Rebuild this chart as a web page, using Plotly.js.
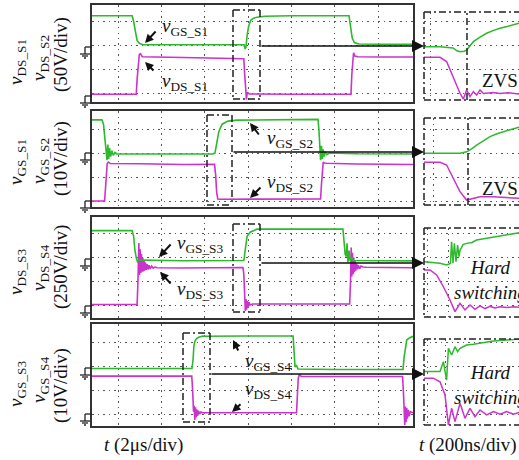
<!DOCTYPE html>
<html><head><meta charset="utf-8">
<script src="https://cdn.plot.ly/plotly-3.0.1.min.js"></script>
<style>html,body{margin:0;padding:0;background:#fff}#chart{width:519px;height:460px}</style>
</head><body><div id="chart"></div>
<script>
// ---------- DATA (time in µs for main traces, ns for zoomed insets; voltage in divisions) ----------
const p1GsT = [0.80, 2.65, 2.72, 2.80, 2.88, 3.00, 3.15, 5.00, 7.00, 7.81, 7.86, 7.90, 7.95, 8.02, 8.12, 8.25, 8.41, 8.78, 10.0, 12.65, 12.72, 12.80, 12.90, 13.10, 14.0, 15.6];
const p1GsV = [3.24, 3.24, 3.00, 2.50, 2.20, 2.08, 2.03, 2.03, 2.04, 2.03, 1.85, 1.95, 2.40, 2.80, 3.05, 3.14, 3.18, 3.22, 3.24, 3.24, 2.80, 2.30, 2.12, 2.06, 2.05, 2.05];
const p1DsT = [0.80, 2.84, 2.88, 2.93, 2.98, 3.03, 3.12, 5.0, 7.70, 7.80, 7.84, 7.88, 7.92, 7.96, 8.05, 10.0, 12.74, 12.78, 12.82, 12.86, 12.92, 13.05, 14.0, 15.6];
const p1DsV = [-0.03, -0.03, 0.60, 1.30, 1.62, 1.66, 1.53, 1.50, 1.48, 1.45, 0.80, 0.05, -0.25, 0.05, -0.02, -0.03, -0.03, 0.80, 1.55, 1.70, 1.56, 1.53, 1.52, 1.52];

const p2GsT = [0.80, 1.26, 1.33, 1.40, 1.45, 1.49, 1.53, 1.57, 1.61, 1.66, 1.72, 1.78, 1.86, 1.95, 4.0, 6.38, 6.47, 6.56, 6.65, 6.80, 7.07, 7.50, 9.0, 11.22, 11.26, 11.30, 11.34, 11.38, 11.42, 11.46, 11.50, 11.56, 11.63, 11.75, 13.0, 15.6];
const p2GsV = [3.38, 3.38, 3.20, 2.60, 2.30, 1.70, 2.35, 1.75, 2.20, 1.85, 2.10, 1.90, 2.02, 1.96, 1.96, 1.96, 2.00, 2.40, 2.90, 3.20, 3.33, 3.37, 3.38, 3.40, 3.00, 2.40, 1.70, 2.30, 1.75, 2.15, 1.85, 2.05, 1.93, 2.00, 1.97, 1.96];
const p2DsT = [0.80, 1.38, 1.42, 1.46, 1.50, 1.55, 1.65, 3.0, 5.0, 6.45, 6.50, 6.55, 6.60, 6.70, 9.0, 11.34, 11.38, 11.42, 11.46, 11.52, 11.62, 13.0, 15.6];
const p2DsV = [0.00, 0.00, 0.50, 1.20, 1.55, 1.62, 1.56, 1.55, 1.52, 1.53, 1.10, 0.35, 0.08, 0.07, 0.08, 0.09, 0.70, 1.40, 1.62, 1.58, 1.57, 1.54, 1.52];

const p3GsT = [0.80, 2.65, 2.72, 2.78, 2.85, 2.90, 3.00, 5.00, 7.76, 7.81, 7.86, 7.95, 8.09, 8.25, 8.40, 10.0, 12.37, 12.42, 12.47, 12.52, 12.56, 12.60, 12.65, 12.70, 12.76, 12.85, 14.0, 15.6];
const p3GsV = [3.14, 3.14, 2.90, 2.30, 1.95, 1.82, 1.90, 1.87, 1.88, 1.90, 2.30, 2.90, 3.07, 3.15, 3.20, 3.20, 3.20, 2.70, 2.15, 2.05, 2.60, 1.80, 2.30, 1.85, 2.00, 1.88, 1.86, 1.86];
const p3DsT = [0.80, 2.88, 2.92, 2.96, 2.99, 3.02, 3.05, 3.08, 3.11, 3.14, 3.17, 3.20, 3.23, 3.26, 3.30, 3.34, 3.38, 3.43, 3.48, 3.55, 3.62, 3.70, 3.80, 5.0, 7.76, 7.80, 7.84, 7.87, 7.90, 7.93, 7.96, 8.00, 8.04, 8.09, 8.20, 10.0, 12.68, 12.72, 12.75, 12.78, 12.81, 12.84, 12.87, 12.90, 12.93, 12.96, 13.00, 13.04, 13.08, 13.14, 13.20, 13.30, 13.45, 15.6];
const p3DsV = [0.02, 0.02, 1.00, 2.62, 1.27, 2.35, 1.35, 2.15, 1.40, 2.00, 1.42, 1.90, 1.45, 1.80, 1.48, 1.72, 1.50, 1.68, 1.52, 1.64, 1.55, 1.60, 1.57, 1.56, 1.58, 1.30, 0.40, -0.25, 0.25, -0.20, 0.18, -0.12, 0.12, 0.00, 0.04, 0.04, 0.04, 1.00, 2.43, 1.20, 2.20, 1.30, 2.00, 1.38, 1.85, 1.45, 1.75, 1.50, 1.68, 1.53, 1.64, 1.60, 1.59, 1.57];

const p4GsT = [0.80, 5.41, 5.46, 5.50, 5.55, 5.62, 5.72, 5.87, 8.0, 10.07, 10.12, 10.16, 10.22, 10.30, 12.0, 15.14, 15.19, 15.25, 15.31, 15.45, 15.60];
const p4GsV = [1.92, 1.92, 2.30, 2.90, 3.08, 3.18, 3.24, 3.28, 3.29, 3.29, 2.60, 1.98, 2.06, 1.90, 1.88, 1.88, 2.40, 2.90, 3.12, 3.22, 3.28];
const p4DsT = [0.80, 5.40, 5.44, 5.48, 5.51, 5.54, 5.57, 5.60, 5.63, 5.67, 5.71, 5.76, 5.82, 5.90, 8.0, 10.23, 10.27, 10.31, 10.36, 10.45, 12.0, 15.12, 15.16, 15.19, 15.22, 15.25, 15.28, 15.31, 15.34, 15.38, 15.42, 15.48, 15.60];
const p4DsV = [1.60, 1.60, 1.00, 0.10, 0.35, -0.25, 0.28, -0.15, 0.20, -0.08, 0.14, 0.00, 0.08, 0.05, 0.05, 0.05, 0.80, 1.50, 1.67, 1.58, 1.58, 1.58, 0.90, 0.10, -0.46, 0.31, -0.35, 0.25, -0.20, 0.18, -0.10, 0.10, 0.05];

const i1GsT = [0, 80, 145, 165, 180, 200, 213, 230, 247, 280, 313, 345, 380, 420, 475];
const i1GsV = [1.95, 1.95, 1.90, 1.78, 1.74, 1.76, 1.81, 1.98, 2.16, 2.35, 2.51, 2.62, 2.72, 2.80, 2.93];
const i1DsT = [0, 80, 113, 138, 163, 180, 197, 213, 230, 247, 263, 280, 297, 313, 347, 380, 420, 475];
const i1DsV = [1.51, 1.51, 1.33, 0.84, 0.28, 0.01, -0.23, 0.15, -0.13, 0.08, -0.06, 0.15, 0.00, 0.01, 0.04, 0.00, 0.03, -0.02];

const i2GsT = [0, 100, 180, 213, 240, 263, 300, 330, 365, 397, 435, 475];
const i2GsV = [1.99, 1.99, 1.99, 2.05, 2.18, 2.33, 2.52, 2.68, 2.80, 2.89, 2.98, 3.07];
const i2DsT = [0, 80, 113, 147, 180, 213, 247, 280, 347, 400, 475];
const i2DsV = [1.61, 1.61, 1.50, 0.94, 0.39, 0.04, 0.11, 0.18, 0.18, 0.14, 0.11];

const i3GsT = [0, 80, 113, 132, 138, 145, 152, 160, 168, 175, 180, 195, 213, 240, 263, 300, 347, 400, 440, 475];
const i3GsV = [1.83, 1.76, 1.69, 1.75, 2.67, 1.76, 2.60, 1.83, 2.53, 2.04, 2.30, 2.55, 2.60, 2.64, 2.74, 2.80, 2.88, 2.95, 3.00, 3.05];
const i3DsT = [0, 30, 63, 97, 130, 155, 180, 205, 230, 255, 280, 305, 330, 355, 380, 413, 447, 475];
const i3DsV = [1.48, 1.48, 1.27, 0.77, 0.21, -0.28, 0.07, -0.21, 0.00, -0.18, -0.04, -0.15, -0.06, -0.13, -0.07, -0.11, -0.07, -0.09];

const i4GsT = [0, 80, 97, 113, 122, 138, 155, 168, 180, 197, 213, 247, 280, 347, 413, 475];
const i4GsV = [1.79, 1.79, 2.21, 1.43, 2.77, 2.49, 2.84, 2.63, 2.77, 2.84, 2.91, 2.94, 2.98, 3.08, 3.12, 3.16];
const i4DsT = [0, 47, 80, 105, 122, 138, 155, 180, 205, 230, 255, 280, 313, 347, 380, 413, 447, 475];
const i4DsV = [1.51, 1.51, 1.36, 0.80, -0.46, 0.24, -0.32, 0.45, -0.18, 0.24, -0.11, 0.17, -0.04, 0.10, -0.01, 0.10, -0.01, 0.07];

const mainGridT = [2, 4, 6, 8, 10, 12, 14];
const divGrid = [0, 1, 2, 3];
const leftLabels = [
  ['<i>v</i><sub>DS_S1</sub>', '<i>v</i><sub>DS_S2</sub>', '(50V/div)'],
  ['<i>v</i><sub>GS_S1</sub>', '<i>v</i><sub>GS_S2</sub>', '(10V/div)'],
  ['<i>v</i><sub>DS_S3</sub>', '<i>v</i><sub>DS_S4</sub>', '(250V/div)'],
  ['<i>v</i><sub>GS_S3</sub>', '<i>v</i><sub>GS_S4</sub>', '(10V/div)']
];
const gsNames = ['<i>v</i><sub>GS_S1</sub>', '<i>v</i><sub>GS_S2</sub>', '<i>v</i><sub>GS_S3</sub>', '<i>v</i><sub>GS_S4</sub>'];
const dsNames = ['<i>v</i><sub>DS_S1</sub>', '<i>v</i><sub>DS_S2</sub>', '<i>v</i><sub>DS_S3</sub>', '<i>v</i><sub>DS_S4</sub>'];
const insetNotes = ['ZVS', 'ZVS', '<i>Hard</i><br><i>switching</i>', '<i>Hard</i><br><i>switching</i>'];
const xLabelMain = '<i>t</i> (2μs/div)';
const xLabelZoom = '<i>t</i> (200ns/div)';

// ---------- LAYOUT ----------
const W = 519, H = 460;
const px = p => p / W;
const py = p => 1 - p / H;
const FONT = 'Liberation Serif, Times New Roman, serif';
const GREEN = '#2cba2c', MAG = '#cc33cc';
const mainL = 92, mainR = 413, insL = 424;
const tOf = p => 0.8 + (p - 92) * 14.8 / 321;

const P = [
  {top: 5, bottom: 102, g0: 93.5, sp: 24, itop: 12, ibot: 100, box: [233, 260, 10, 99], arrowY: 46, gnd: [47, 96],
   insTicks: [30], dd: 215, gsLab: [160, 27], dsLab: [160, 82], gsArr: [145, 43, 12, -13], dsArr: [145, 62, 10, 10], lab: [62, 58, 55], note: [480, 81]},
  {top: 111, bottom: 207, g0: 201, sp: 24, itop: 118, ibot: 205, box: [207, 232, 115, 205], arrowY: 152, gnd: [153, 201],
   insTicks: [45], dd: 220, gsLab: [265, 139], dsLab: [265, 183], gsArr: [250, 123, 10, 13], dsArr: [250, 198, 12, -12], lab: [162, 161, 159], note: [480, 189]},
  {top: 217, bottom: 318, g0: 305, sp: 23.7, itop: 228, ibot: 317, box: [233, 260, 224, 312], arrowY: 263, gnd: [259, 306],
   insTicks: [15, 120], dd: null, gsLab: [175, 244], dsLab: [175, 290], gsArr: [159, 257, 13, -14], dsArr: [160, 272, 12, 13], lab: [272, 268, 267], note: [452, 280]},
  {top: 324, bottom: 426, g0: 414, sp: 23.7, itop: 339, ibot: 425, box: [183, 210, 333, 422], arrowY: 374, gnd: [368, 414],
   insTicks: [15, 105], dd: null, gsLab: [243, 362], dsLab: [243, 390], gsArr: [233, 340, 6, 12], dsArr: [232, 412, 10, -9], lab: [384, 380, 386], note: [452, 385]}
];
const mainData = [[p1GsT, p1GsV, p1DsT, p1DsV], [p2GsT, p2GsV, p2DsT, p2DsV], [p3GsT, p3GsV, p3DsT, p3DsV], [p4GsT, p4GsV, p4DsT, p4DsV]];
const insData = [[i1GsT, i1GsV, i1DsT, i1DsV], [i2GsT, i2GsV, i2DsT, i2DsV], [i3GsT, i3GsV, i3DsT, i3DsV], [i4GsT, i4GsV, i4DsT, i4DsV]];

const layout = {
  width: W, height: H, margin: {l: 0, r: 0, t: 0, b: 0},
  paper_bgcolor: '#fff', plot_bgcolor: 'rgba(0,0,0,0)', showlegend: false,
  font: {family: FONT, size: 19, color: '#111'},
  shapes: [], annotations: []
};
const traces = [];
const axName = (a, n) => n === 1 ? a + 'axis' : a + 'axis' + n;
const axId = (a, n) => n === 1 ? a : a + n;
const gridCommon = {showticklabels: false, ticks: '', zeroline: false, showgrid: true, gridcolor: '#555', griddash: '1.5px,4px', gridwidth: 1, fixedrange: true};
const line = (x0, y0, x1, y1, dash, w, col) => ({type: 'line', xref: 'paper', yref: 'paper', x0: px(x0), y0: py(y0), x1: px(x1), y1: py(y1), line: {color: col || '#222', width: w || 1.5, dash: dash || 'solid'}});
const DASHDOT = '7px,3px,2px,3px';

P.forEach((p, k) => {
  const m = k + 1, n = k + 5;
  layout[axName('x', m)] = Object.assign({}, gridCommon, {domain: [px(mainL), px(mainR)], range: [tOf(mainL), tOf(mainR)], tickvals: mainGridT, anchor: axId('y', m), showline: true, mirror: true, linecolor: '#333', linewidth: 2});
  layout[axName('y', m)] = Object.assign({}, gridCommon, {domain: [py(p.bottom), py(p.top)], range: [(p.g0 - p.bottom) / p.sp, (p.g0 - p.top) / p.sp], tickvals: divGrid, anchor: axId('x', m), showline: true, mirror: true, linecolor: '#333', linewidth: 2});
  layout[axName('x', n)] = Object.assign({}, gridCommon, {domain: [px(insL), 1], range: [0, 475], tickvals: p.insTicks, anchor: axId('y', n), showline: false});
  layout[axName('y', n)] = Object.assign({}, gridCommon, {domain: [py(p.ibot), py(p.itop)], range: [(p.g0 - p.ibot) / p.sp, (p.g0 - p.itop) / p.sp], tickvals: divGrid, anchor: axId('x', n), showline: false});

  const md = mainData[k], id = insData[k];
  traces.push({x: md[2], y: md[3], xaxis: axId('x', m), yaxis: axId('y', m), mode: 'lines', line: {color: MAG, width: 1.6}, hoverinfo: 'skip'});
  traces.push({x: md[0], y: md[1], xaxis: axId('x', m), yaxis: axId('y', m), mode: 'lines', line: {color: GREEN, width: 1.6}, hoverinfo: 'skip'});
  traces.push({x: id[2], y: id[3], xaxis: axId('x', n), yaxis: axId('y', n), mode: 'lines', line: {color: MAG, width: 1.5}, hoverinfo: 'skip'});
  traces.push({x: id[0], y: id[1], xaxis: axId('x', n), yaxis: axId('y', n), mode: 'lines', line: {color: GREEN, width: 1.5}, hoverinfo: 'skip'});

  // zoom box in main panel
  const b = p.box;
  layout.shapes.push(line(b[0], b[2], b[1], b[2], DASHDOT), line(b[0], b[3], b[1], b[3], DASHDOT), line(b[0], b[2], b[0], b[3], DASHDOT), line(b[1], b[2], b[1], b[3], DASHDOT));
  // inset frame
  layout.shapes.push(line(insL, p.itop, 530, p.itop, DASHDOT), line(insL, p.ibot, 530, p.ibot, DASHDOT), line(insL, p.itop, insL, p.ibot, DASHDOT));
  if (p.dd !== null) {
    layout.shapes.push({type: 'line', xref: axId('x', n), yref: 'paper', x0: p.dd, x1: p.dd, y0: py(p.ibot), y1: py(p.itop), line: {color: '#222', width: 1.5, dash: DASHDOT}});
  }
  // ground symbols
  p.gnd.forEach(g => {
    layout.shapes.push(line(85, g, 92, g, 'solid', 1.3), line(85, g, 85, g + 7, 'solid', 1.3), line(80, g + 7, 90, g + 7, 'solid', 1.3), line(82, g + 9, 88, g + 9, 'solid', 1.3), line(84, g + 11, 86, g + 11, 'solid', 1.3));
  });
  // arrow from zoom box to inset
  layout.annotations.push({xref: 'paper', yref: 'paper', x: px(insL), y: py(p.arrowY), ax: b[1] - insL, ay: 0, text: '', showarrow: true, arrowhead: 2, arrowsize: 1.6, arrowwidth: 1.5, arrowcolor: '#111', standoff: 0});
  // trace labels with arrows
  layout.annotations.push({xref: 'paper', yref: 'paper', x: px(p.gsLab[0]), y: py(p.gsLab[1]), xanchor: 'left', yanchor: 'middle', text: gsNames[k], showarrow: false, font: {size: 19}});
  layout.annotations.push({xref: 'paper', yref: 'paper', x: px(p.dsLab[0]), y: py(p.dsLab[1]), xanchor: 'left', yanchor: 'middle', text: dsNames[k], showarrow: false, font: {size: 19}});
  [p.gsArr, p.dsArr].forEach(a => {
    layout.annotations.push({xref: 'paper', yref: 'paper', x: px(a[0]), y: py(a[1]), ax: a[2], ay: a[3], text: '', showarrow: true, arrowhead: 2, arrowsize: 0.85, arrowwidth: 2, arrowcolor: '#111', standoff: 0});
  });
  // rotated axis labels
  [17, 40, 61].forEach((xx, j) => {
    layout.annotations.push({xref: 'paper', yref: 'paper', x: px(xx), y: py(p.lab[j]), xanchor: 'center', yanchor: 'middle', textangle: -90, text: leftLabels[k][j], showarrow: false, font: {size: 19}});
  });
  // inset note
  layout.annotations.push({xref: 'paper', yref: 'paper', x: px(p.note[0]), y: py(p.note[1]), xanchor: 'left', yanchor: 'middle', text: insetNotes[k], showarrow: false, align: 'center', font: {size: 19}});
});

layout.annotations.push({xref: 'paper', yref: 'paper', x: px(102), y: py(445), xanchor: 'left', yanchor: 'middle', text: xLabelMain, showarrow: false, font: {size: 19}});
layout.annotations.push({xref: 'paper', yref: 'paper', x: px(417), y: py(445), xanchor: 'left', yanchor: 'middle', text: xLabelZoom, showarrow: false, font: {size: 19}});

Plotly.newPlot('chart', traces, layout, {staticPlot: true, displayModeBar: false});
</script></body></html>
